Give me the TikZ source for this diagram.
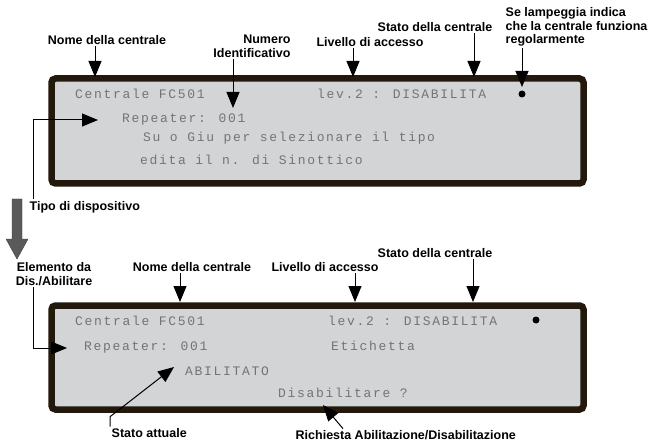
\documentclass[tikz,border=0pt]{standalone}
\usepackage{fontspec}
\setmainfont{Liberation Sans}
\newfontfamily\lcdfont[LetterSpace=13]{Liberation Mono}
\usetikzlibrary{positioning,arrows.meta,calc}
\definecolor{cbordo}{HTML}{22190C}
\definecolor{cschermo}{HTML}{D3D4D6}
\definecolor{ctesto}{HTML}{747474}
\definecolor{cfreccia}{HTML}{5A5A5A}
\tikzset{
  schermo/.style={draw=cbordo, line width=6.5pt, fill=cschermo, rounded corners=4pt},
  lcd/.style={anchor=base west, inner sep=0pt, text=ctesto,
    font=\lcdfont\fontsize{13}{15}\selectfont},
  etq/.style={font=\bfseries\fontsize{12.5}{13.5}\selectfont, inner sep=1.5pt, align=center},
  freccia/.style={-{Triangle[length=16pt,width=13pt]}, line width=1pt},
  spia/.style={fill=black},
}

\begin{document}
\begin{tikzpicture}[x=1pt, y=-1pt]
  \useasboundingbox (0,0) rectangle (651,441);
  % display superiore
  \draw[schermo] (51.5,78.5) rectangle (583.5,183.5);
  \node[lcd] (cen1) at (75,99) {Centrale FC501};
  \node[lcd] (lev1) at (317,99) {lev.2 : DISABILITA};
  \fill[spia] (522,94) circle (3.5pt);
  \node[lcd] (rep1) at (122,123) {Repeater: 001};
  \node[lcd] (su1) at (143,142) {Su o Giu per selezionare il tipo};
  \node[lcd] (ed1) at (140,165) {edita il n. di Sinottico};

  \node[etq] (nome1) at (107,40) {Nome della centrale};
  \node[etq, align=right] (num1) at (252,46.5) {Numero\\Identificativo};
  \node[etq] (liv1) at (370,42) {Livello di accesso};
  \node[etq] (stato1) at (435,27) {Stato della centrale};
  \node[etq, align=left, anchor=west] (lamp1) at (504,27)
    {Se lampeggia indica\\che la centrale funziona\\regolarmente};
  \node[etq, anchor=west] (tipo1) at (28,207) {Tipo di dispositivo};

  \coordinate (tNome1) at (95,77);
  \coordinate (tNum1) at (233,108);
  \coordinate (tLiv1) at (353,77);
  \coordinate (tStato1) at (474,77);
  \coordinate (tLamp1) at (522,87);
  \coordinate (tTipo1) at (98,120);
  \draw[freccia] (nome1.south -| tNome1) -- (tNome1);
  \draw[freccia] (num1.south -| tNum1) -- (tNum1);
  \draw[freccia] (liv1.south -| tLiv1) -- (tLiv1);
  \draw[freccia] (stato1.south -| tStato1) -- (tStato1);
  \draw[freccia] (lamp1.south -| tLamp1) -- (tLamp1);
  \draw[freccia] ([xshift=5pt]tipo1.north west) |- (tTipo1);

  % freccia grigia di passaggio
  \filldraw[fill=cfreccia, draw=cfreccia!70!black, line width=0.4pt]
    (12,199) -- (22,199) -- (22,239) -- (28,239) -- (17,259) -- (6,239) -- (12,239) -- cycle;

  % display inferiore
  \draw[schermo] (51.5,305.5) rectangle (583.5,409.5);
  \node[lcd] (cen2) at (75,325) {Centrale FC501};
  \node[lcd] (lev2) at (328,325) {lev.2 : DISABILITA};
  \fill[spia] (536,320) circle (3.5pt);
  \node[lcd] (rep2) at (84,350) {Repeater: 001};
  \node[lcd] (eti2) at (331,350) {Etichetta};
  \node[lcd] (abi2) at (185,375) {ABILITATO};
  \node[lcd] (dis2) at (278,397) {Disabilitare ?};

  \node[etq] (elem2) at (54,274) {Elemento da\\Dis./Abilitare};
  \node[etq] (nome2) at (192,267) {Nome della centrale};
  \node[etq] (liv2) at (325,267) {Livello di accesso};
  \node[etq] (stato2) at (435,253) {Stato della centrale};
  \node[etq, anchor=west] (att2) at (110,433) {Stato attuale};
  \node[etq, anchor=west] (rich2) at (294,435) {Richiesta Abilitazione/Disabilitazione};

  \coordinate (tElem2) at (67,348);
  \coordinate (tNome2) at (180,302);
  \coordinate (tLiv2) at (355,302);
  \coordinate (tStato2) at (473,302);
  \coordinate (tAtt2) at (174,367);
  \coordinate (tRich2) at (323,405);
  \draw[freccia] ([xshift=-21pt]elem2.south) |- (tElem2);
  \draw[freccia] (nome2.south -| tNome2) -- (tNome2);
  \draw[freccia] (liv2.south -| tLiv2) -- (tLiv2);
  \draw[freccia] (stato2.south -| tStato2) -- (tStato2);
  \draw[freccia] (att2.north west) -- ++(0,-10) -- (tAtt2);
  \draw[freccia] ([xshift=49pt]rich2.north west) -- (tRich2);
\end{tikzpicture}
\end{document}
